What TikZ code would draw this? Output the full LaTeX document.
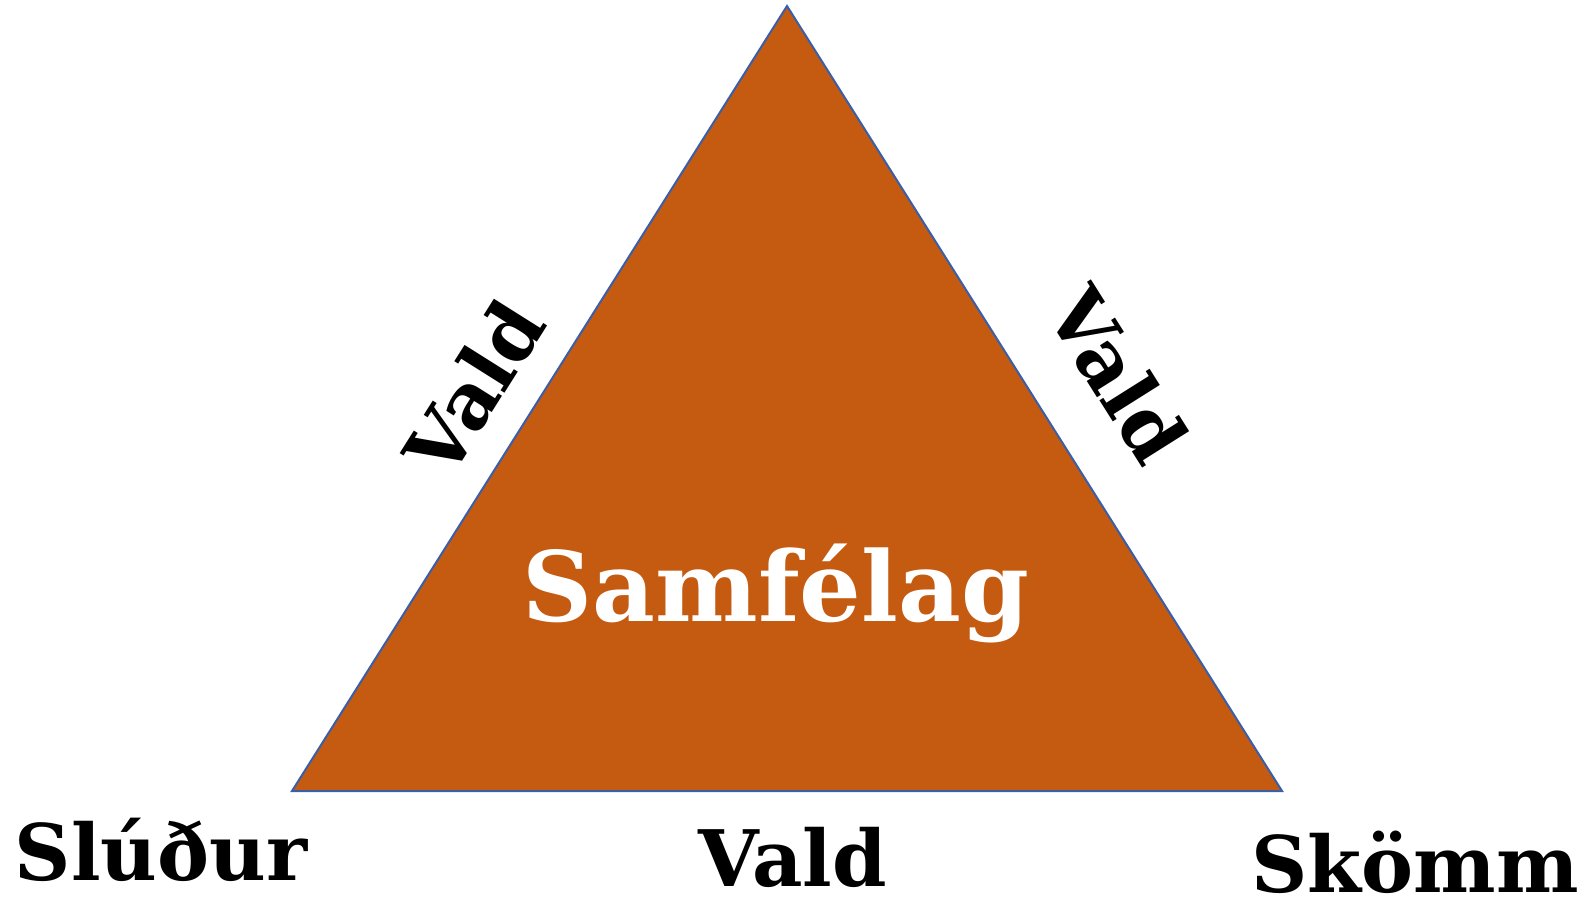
\documentclass[tikz,border=0pt]{standalone}
\usepackage{fontspec}
\setmainfont{DejaVu Serif}
\definecolor{trifill}{HTML}{C55A11}
\definecolor{triedge}{HTML}{3A5FA8}
\begin{document}
\begin{tikzpicture}[x=1pt,y=-1pt,
  lbl/.style={font=\bfseries\fontsize{78}{80}\selectfont, inner sep=0pt, text=black},
  big/.style={font=\bfseries\fontsize{97}{100}\selectfont, inner sep=0pt, text=white}]
\useasboundingbox (0,0) rectangle (1593,899);
\coordinate (apex) at (787,6);
\coordinate (bl) at (292,791);
\coordinate (br) at (1282,791);
\filldraw[fill=trifill, draw=triedge, line width=2pt, line join=miter] (apex) -- (bl) -- (br) -- cycle;
\node[big, anchor=base] (center) at (776,621) {Samfélag};
\node[lbl, anchor=base] (s1) at (161,880) {Slúður};
\node[lbl, anchor=base] (v0) at (793,886) {Vald};
\node[lbl, anchor=base] (s2) at (1415,892) {Skömm};
\node[lbl, rotate=57.8] (vl) at (474,388) {Vald};
\node[lbl, rotate=-57.8] (vr) at (1118,375) {Vald};
\end{tikzpicture}
\end{document}
